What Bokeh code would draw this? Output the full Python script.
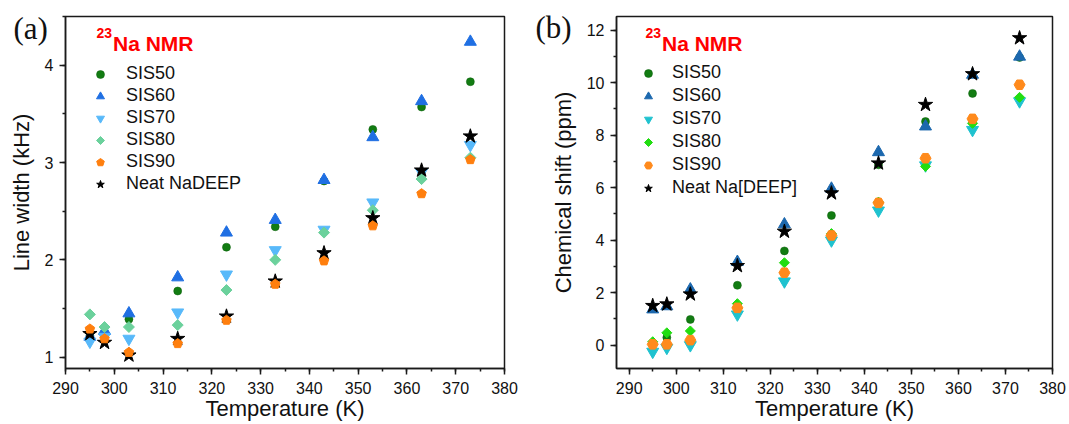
from bokeh.plotting import figure
from bokeh.models import Range1d, SingleIntervalTicker, Legend, LegendItem, Label
from bokeh.core.properties import value
from bokeh.layouts import row
from bokeh.embed import file_html
from bokeh.resources import INLINE

# ---------------- data ----------------
temperature = [295, 298, 303, 313, 323, 333, 343, 353, 363, 373]
series_labels_a = ["SIS50", "SIS60", "SIS70", "SIS80", "SIS90", "Neat NaDEEP"]
series_labels_b = ["SIS50", "SIS60", "SIS70", "SIS80", "SIS90", "Neat Na[DEEP]"]

# (a) line width (kHz)
lw_sis50 = [1.22, 1.25, 1.39, 1.68, 2.13, 2.34, 2.81, 3.34, 3.57, 3.83]
lw_sis60 = [1.21, 1.27, 1.45, 1.82, 2.28, 2.41, 2.82, 3.26, 3.63, 4.24]
lw_sis70 = [1.16, 1.21, 1.19, 1.46, 1.85, 2.10, 2.31, 2.59, 2.90, 3.18]
lw_sis80 = [1.44, 1.31, 1.31, 1.33, 1.69, 2.00, 2.28, 2.51, 2.83, 3.05]
lw_sis90 = [1.29, 1.19, 1.05, 1.14, 1.38, 1.75, 1.99, 2.35, 2.68, 3.03]
lw_neat = [1.24, 1.15, 1.02, 1.19, 1.42, 1.78, 2.07, 2.43, 2.92, 3.27]

# (b) chemical shift (ppm)
cs_sis50 = [0.05, 0.29, 0.98, 2.28, 3.59, 4.94, 6.87, 8.52, 9.59, 10.96]
cs_sis60 = [1.36, 1.48, 2.12, 3.17, 4.60, 5.96, 7.35, 8.33, 10.30, 10.99]
cs_sis70 = [-0.25, -0.10, 0.00, 1.17, 2.43, 3.99, 5.13, 6.85, 8.20, 9.29]
cs_sis80 = [0.13, 0.47, 0.54, 1.58, 3.14, 4.25, 5.45, 6.81, 8.45, 9.44]
cs_sis90 = [0.03, 0.03, 0.19, 1.42, 2.76, 4.18, 5.42, 7.12, 8.62, 9.92]
cs_neat = [1.50, 1.56, 1.94, 3.02, 4.33, 5.79, 6.93, 9.16, 10.33, 11.70]

SANS = "Liberation Sans"
SERIF = "Liberation Serif"
AXIS_COLOR = "#1a1a1a"
TEXT_COLOR = "#111111"


def style_axes(p, y_interval, y_label):
    p.xaxis.ticker = SingleIntervalTicker(interval=10, num_minor_ticks=2)
    p.yaxis.ticker = SingleIntervalTicker(interval=y_interval, num_minor_ticks=2)
    for ax in (p.xaxis[0], p.yaxis[0]):
        ax.axis_line_color = AXIS_COLOR
        ax.axis_line_width = 1.5
        ax.major_tick_line_color = AXIS_COLOR
        ax.minor_tick_line_color = AXIS_COLOR
        ax.major_tick_line_width = 1.5
        ax.minor_tick_line_width = 1.5
        ax.major_tick_in = 0
        ax.major_tick_out = 6
        ax.minor_tick_in = 0
        ax.minor_tick_out = 3
        ax.major_label_text_font = SANS
        ax.major_label_text_font_size = "16px"
        ax.major_label_text_color = TEXT_COLOR
    p.xaxis.major_label_standoff = 7
    p.yaxis.major_label_standoff = 6
    p.yaxis.axis_label = y_label
    p.yaxis.axis_label_text_font = SANS
    p.yaxis.axis_label_text_font_size = "22px"
    p.yaxis.axis_label_text_font_style = "normal"
    p.yaxis.axis_label_text_color = TEXT_COLOR
    p.yaxis.axis_label_standoff = 8
    p.xgrid.visible = False
    p.ygrid.visible = False
    p.outline_line_color = AXIS_COLOR
    p.outline_line_width = 1.5
    p.outline_line_alpha = 1.0


def add_texts(p, panel_tag, corner_x, corner_y, tag_dx, tag_dy, title_x,
              xcenter, ybottom, xlabel_dy):
    # panel tag "(a)" / "(b)" outside the frame, top-left
    p.text(x=[corner_x], y=[corner_y], text=[panel_tag], x_offset=tag_dx, y_offset=tag_dy,
           text_font=value(SERIF), text_font_size=value("31px"), text_color=TEXT_COLOR,
           text_baseline="middle", text_align="left", level="overlay")
    # x axis title below the tick labels
    p.text(x=[xcenter], y=[ybottom], text=["Temperature (K)"], x_offset=0, y_offset=xlabel_dy,
           text_font=value(SANS), text_font_size=value("22px"), text_color=TEXT_COLOR,
           text_baseline="alphabetic", text_align="center", level="overlay")
    # red "23Na NMR" heading inside the frame
    p.add_layout(Label(x=title_x, y=335.5, x_units="screen", y_units="screen",
                       text="23", text_font=SANS, text_font_size="14px",
                       text_font_style="bold", text_color="#ff0000",
                       text_baseline="alphabetic", text_align="left"))
    p.add_layout(Label(x=title_x + 16.5, y=325, x_units="screen", y_units="screen",
                       text="Na NMR", text_font=SANS, text_font_size="21px",
                       text_font_style="bold", text_color="#ff0000",
                       text_baseline="alphabetic", text_align="left"))


def make_legend(renderers, labels, loc, standoff, spacing):
    items = [LegendItem(label=lab, renderers=[r]) for lab, r in zip(labels, renderers)]
    return Legend(items=items, location=loc, orientation="vertical",
                  background_fill_alpha=0, border_line_color=None,
                  padding=0, margin=0, spacing=spacing,
                  glyph_width=20, glyph_height=20, label_height=20,
                  label_standoff=standoff, label_text_font=SANS,
                  label_text_font_size="18px", label_text_color=TEXT_COLOR)


# ---------------- panel (a) ----------------
xa0, xa1, ya0, ya1 = 290, 380, 0.884, 4.5
pa = figure(width=530, height=422, output_backend="svg", toolbar_location=None,
            x_range=Range1d(xa0, xa1), y_range=Range1d(ya0, ya1),
            min_border_left=65, min_border_right=26, min_border_top=15, min_border_bottom=54,
            background_fill_color="white", border_fill_color="white")
style_axes(pa, 1, "Line width (kHz)")

ra = []
ra.append(pa.scatter(temperature, lw_sis50, marker="circle", size=8,
                     fill_color="#127c12", line_color="#0b5e0b", line_width=0.5))
ra.append(pa.scatter(temperature, lw_sis60, marker="triangle", size=12,
                     fill_color="#1f6fe3", line_color="#1f6fe3"))
ra.append(pa.scatter(temperature, lw_sis70, marker="inverted_triangle", size=12,
                     fill_color="#58b9fa", line_color="#58b9fa"))
ra.append(pa.ngon(temperature, lw_sis80, radius=5.5, radius_units="screen", n=4,
                  angle=0, fill_color="#6bd19c", line_color="#6bd19c"))
r_neat_a = pa.scatter(temperature, lw_neat, marker="star", size=15,
                      fill_color="#000000", line_color="#000000")
r_90a = pa.ngon(temperature, lw_sis90, radius=5, radius_units="screen", n=5,
                angle=0, fill_color="#ff7f0e", line_color="#ff7f0e")
ra.append(r_90a)
ra.append(r_neat_a)
pa.add_layout(make_legend(ra, series_labels_a, (25, 174), 16, 1))
add_texts(pa, "(a)", xa0, ya1, -52, 12, 31, (xa0 + xa1) / 2, ya0, 40)

# ---------------- panel (b) ----------------
xb0, xb1, yb0, yb1 = 287.3, 380, -0.89, 12.52
pb = figure(width=537, height=422, output_backend="svg", toolbar_location=None,
            x_range=Range1d(xb0, xb1), y_range=Range1d(yb0, yb1),
            min_border_left=86, min_border_right=15, min_border_top=16, min_border_bottom=54,
            background_fill_color="white", border_fill_color="white")
style_axes(pb, 2, "Chemical shift (ppm)")

rb = []
rb.append(pb.scatter(temperature, cs_sis50, marker="circle", size=8,
                     fill_color="#127c12", line_color="#0b5e0b", line_width=0.5))
rb.append(pb.scatter(temperature, cs_sis60, marker="triangle", size=12,
                     fill_color="#1c68ae", line_color="#1c68ae"))
rb.append(pb.scatter(temperature, cs_sis70, marker="inverted_triangle", size=12,
                     fill_color="#1fc2cf", line_color="#1fc2cf"))
rb.append(pb.ngon(temperature, cs_sis80, radius=5, radius_units="screen", n=4,
                  angle=0, fill_color="#22dd11", line_color="#22dd11"))
rb.append(pb.scatter(temperature, cs_sis90, marker="hex", size=11,
                     fill_color="#ff8a1c", line_color="#ff8a1c"))
rb.append(pb.scatter(temperature, cs_neat, marker="star", size=15,
                     fill_color="#000000", line_color="#000000"))
pb.add_layout(make_legend(rb, series_labels_b, (22, 170), 14, 2))
add_texts(pb, "(b)", xb0, yb1, -81, 11, 29, (xb0 + xb1) / 2, yb0, 40)

layout = row(pa, pb)
open("out.html", "w").write(file_html(layout, INLINE))
